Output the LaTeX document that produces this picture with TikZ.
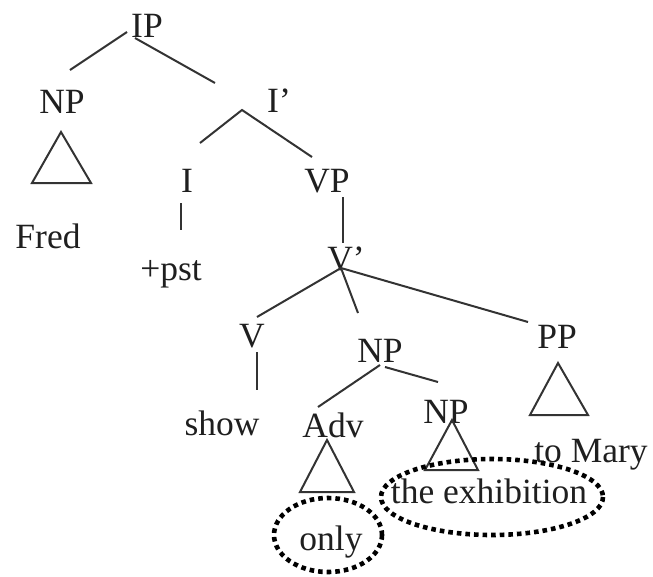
\documentclass[tikz,border=0pt]{standalone}
\usepackage{fontspec}
\setmainfont{Liberation Serif}
\begin{document}
\begin{tikzpicture}[x=1pt,y=-1pt,
  lbl/.style={inner sep=0pt,anchor=base,font=\fontsize{35.5}{40}\selectfont,text=black!88},
  edge/.style={line width=2pt,draw=black!80},
  tri/.style={line width=2pt,draw=black!80},
  ring/.style={draw=black,line width=4.6pt,dash pattern=on 4.6pt off 4pt}]
\useasboundingbox (0,0) rectangle (653,576);
% labels
\node[lbl] (IP) at (147,37) {IP};
\node[lbl] (NPa) at (62,113) {NP};
\node[lbl] (Ibar) at (279,112) {I'};
\node[lbl] (I) at (187,192) {I};
\node[lbl] (VP) at (327,192) {VP};
\node[lbl] (Fred) at (48,248) {Fred};
\node[lbl] (pst) at (171,280) {+pst};
\node[lbl] (Vbar) at (346,270) {V'};
\node[lbl] (V) at (252,347) {V};
\node[lbl] (NPb) at (380,362) {NP};
\node[lbl] (PP) at (557,348) {PP};
\node[lbl] (show) at (222,435) {show};
\node[lbl] (Adv) at (333,437) {Adv};
\node[lbl] (NPc) at (446,423) {NP};
\node[lbl] (Mary) at (591,462) {to Mary};
\node[lbl] (exh) at (489,503) {the exhibition};
\node[lbl] (only) at (331,550) {only};
% connector end points
\coordinate (ipL) at (127,32);
\coordinate (ipR) at (135,38);
\coordinate (npaT) at (70,70);
\coordinate (ibarT) at (215,83);
\coordinate (ibarA) at (242,110);
\coordinate (iT) at (200,143);
\coordinate (vpT) at (312,157);
\coordinate (iB) at (181,203);
\coordinate (pstT) at (181,230);
\coordinate (vpB) at (343,197);
\coordinate (vbarT) at (343,243);
\coordinate (vbarA) at (341,268);
\coordinate (vT) at (257,317);
\coordinate (npbT) at (358,313);
\coordinate (ppT) at (528,322);
\coordinate (vB) at (257,352);
\coordinate (showT) at (257,390);
\coordinate (npbA) at (380,365);
\coordinate (npbA2) at (385,367);
\coordinate (advT) at (318,407);
\coordinate (npcT) at (438,382);
% edges
\draw[edge] (ipL) -- (npaT);
\draw[edge] (ipR) -- (ibarT);
\draw[edge] (iT) -- (ibarA) -- (vpT);
\draw[edge] (iB) -- (pstT);
\draw[edge] (vpB) -- (vbarT);
\draw[edge] (vbarA) -- (vT);
\draw[edge] (vbarA) -- (npbT);
\draw[edge] (vbarA) -- (ppT);
\draw[edge] (vB) -- (showT);
\draw[edge] (npbA) -- (advT);
\draw[edge] (npbA2) -- (npcT);
% triangles
\draw[tri] (61,132) -- (32,183) -- (91,183) -- cycle;
\draw[tri] (327,440) -- (300,492) -- (354,492) -- cycle;
\draw[tri] (452,420) -- (425,470) -- (478,470) -- cycle;
\draw[tri] (558,363) -- (530,415) -- (588,415) -- cycle;
% dotted rings
\draw[ring] (492,497) ellipse [x radius=111, y radius=38];
\draw[ring] (328,535) ellipse [x radius=54, y radius=37];
\end{tikzpicture}
\end{document}
